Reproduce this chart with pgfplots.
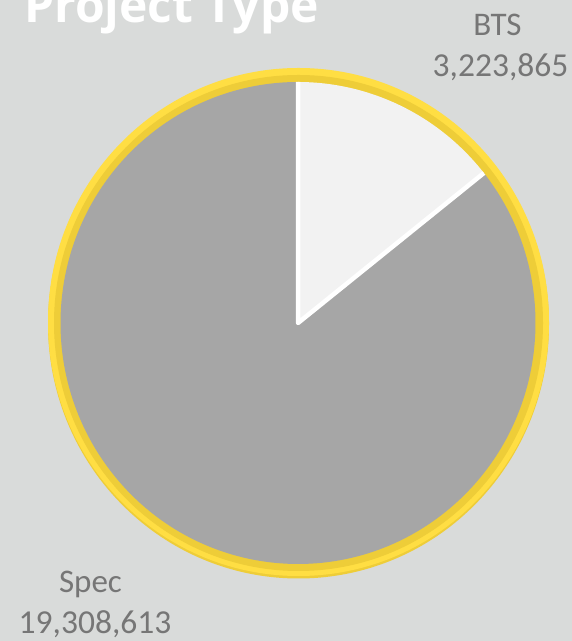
\documentclass[border=0pt]{standalone}
\usepackage{fontspec}
\setmainfont{Carlito}
\newfontfamily\titlefont{Open Sans}
\usepackage{pgfplots}
\usepackage{pgfplotstable}
\pgfplotsset{compat=1.18}
\definecolor{bg}{RGB}{217,219,218}
\definecolor{specgray}{RGB}{166,166,166}
\definecolor{btslight}{RGB}{242,242,242}
\definecolor{ylight}{RGB}{255,222,67}
\definecolor{ydark}{RGB}{238,205,56}
\definecolor{lbl}{RGB}{118,118,118}
\pgfplotstableread{
label value
BTS 3223865
Spec 19308613
}\piedata
\pgfplotstablegetelem{0}{value}\of\piedata \let\vBTS\pgfplotsretval
\pgfplotstablegetelem{1}{value}\of\piedata \let\vSpec\pgfplotsretval
\edef\angBTS{\fpeval{90-360*\vBTS/(\vBTS+\vSpec)}}
\begin{document}
\begin{tikzpicture}
\begin{axis}[name=ax, scale only axis, width=572bp, height=641bp,
  xmin=0, xmax=572, ymin=0, ymax=641, axis lines=none, clip=false]
% background
\fill[bg] (axis cs:0,0) rectangle (axis cs:572,641);
% yellow ring
\fill[ydark] (axis cs:298.5,317) ellipse [x radius=250.5bp, y radius=254.5bp];
\fill[ylight] (axis cs:298.5,319) ellipse [x radius=250.5bp, y radius=254bp];
\fill[ydark] (axis cs:298.5,318) ellipse [x radius=244.5bp, y radius=248bp];
% slices
\fill[btslight] (axis cs:298,318) -- ++(90:241bp)
  arc[start angle=90, end angle=\angBTS, x radius=237.5bp, y radius=241bp] -- cycle;
\fill[specgray] (axis cs:298,318) -- ++({237.5*cos(\angBTS)*1bp},{241*sin(\angBTS)*1bp})
  arc[start angle=\angBTS, end angle=-270, x radius=237.5bp, y radius=241bp] -- cycle;
\draw[white, line width=4.5bp, line join=round]
  (axis cs:298,318) ++(0,241bp) -- (axis cs:298,318) -- ++({237.5*cos(\angBTS)*1bp},{241*sin(\angBTS)*1bp});
% title
\node[anchor=base west, inner sep=0, text=white, font=\titlefont\bfseries\fontsize{48bp}{52bp}\selectfont]
  at (axis cs:24,618) {Project Type};
% labels
\node[anchor=base, inner sep=0, text=lbl, font=\fontsize{33bp}{36bp}\selectfont] at (axis cs:497.5,605) {BTS};
\node[anchor=base, inner sep=0, text=lbl, font=\fontsize{33.5bp}{36bp}\selectfont] at (axis cs:500.5,564) {3,223,865};
\node[anchor=base, inner sep=0, text=lbl, font=\fontsize{33bp}{36bp}\selectfont] at (axis cs:90.5,48) {Spec};
\node[anchor=base, inner sep=0, text=lbl, font=\fontsize{33.5bp}{36bp}\selectfont] at (axis cs:95,8) {19,308,613};
\end{axis}
\pgfresetboundingbox
\path[use as bounding box] (ax.south west) rectangle (ax.north east);
\end{tikzpicture}
\end{document}
